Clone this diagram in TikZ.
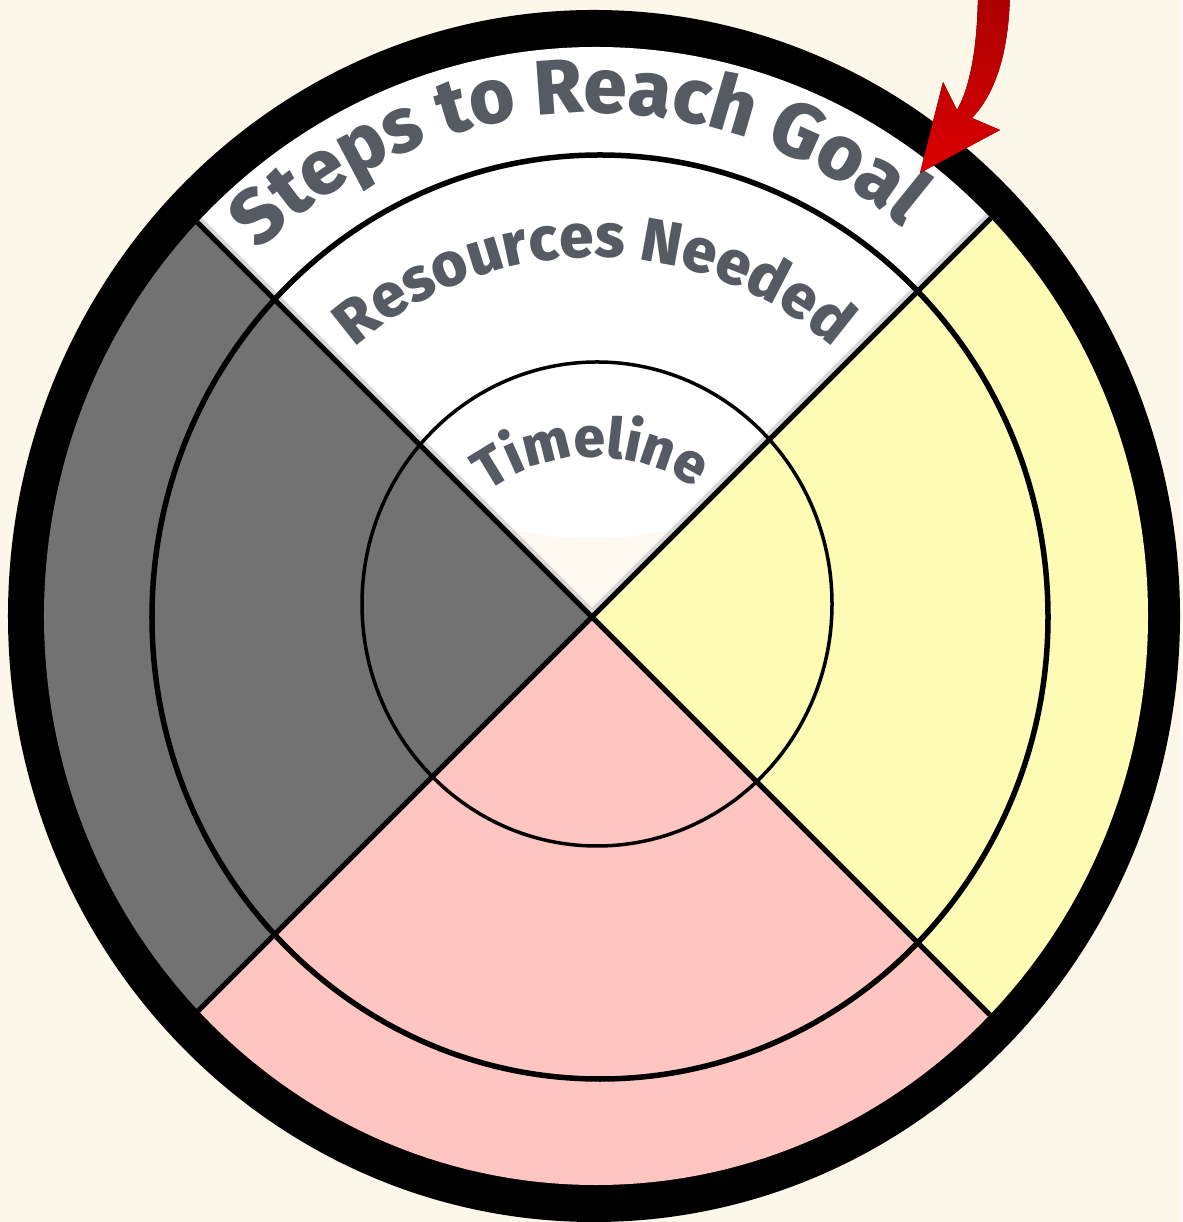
\documentclass[tikz,border=0pt]{standalone}
\usepackage{fontspec}
\newfontfamily\goalfont{Fira Sans}[BoldFont={Fira Sans ExtraBold}]
\usetikzlibrary{decorations.text}

\definecolor{bg_cream}{HTML}{FDF7EA}
\definecolor{quad_gray}{HTML}{737273}
\definecolor{quad_yellow}{HTML}{FEFBB4}
\definecolor{quad_pink}{HTML}{FFC5C0}
\definecolor{label_gray}{HTML}{565B63}
\definecolor{arrow_red}{HTML}{DC0000}
\definecolor{arrow_dark}{HTML}{A80000}

\begin{document}
\begin{tikzpicture}[
        x=0.01cm, y=0.01cm,
        % Define styles for the wheel
        divider/.style={line width=0.05cm, black},
        divider_glow/.style={line width=0.13cm, black!25, opacity=0.6},
        ring_line/.style={line width=0.055cm, black},
        inner_line/.style={line width=0.035cm, black},
        arc_label/.style={decorate, decoration={text along path, text align=center, text color=label_gray, text={#1}}},
        pointer/.style={top color=arrow_dark, bottom color=arrow_red, draw=none}
    ]

    % ==============================================
    % === BACKGROUND AND OUTER RING ===
    % ==============================================
    \fill[bg_cream] (-592,-605) rectangle (590,617);
    \useasboundingbox (-592,-605) rectangle (590,617);

    \coordinate (hub) at (0,0);
    \fill[black] (2,1) ellipse [x radius=586, y radius=606];

    % ==============================================
    % === QUADRANTS, RINGS AND DIVIDERS ===
    % ==============================================
    \begin{scope}
        \clip (4,1) ellipse [x radius=552, y radius=569];

        \fill[white] (hub) -- (-700,700) -- (700,700) -- cycle;
        \fill[quad_yellow] (hub) -- (700,700) -- (700,-700) -- cycle;
        \fill[quad_pink] (hub) -- (700,-700) -- (-700,-700) -- cycle;
        \fill[quad_gray] (hub) -- (-700,-700) -- (-700,700) -- cycle;

        % soft shadow along the dividers of the white quadrant
        \begin{scope}
            \clip (hub) -- (-700,700) -- (700,700) -- cycle;
            \fill[bg_cream!70!white] (hub) -- (-90,90) .. controls (-40,75) and (40,75) .. (90,90) -- cycle;
            \draw[divider_glow] (-700,700) -- (hub) -- (700,700);
        \end{scope}

        \draw[ring_line] (8,0) ellipse [x radius=448, y radius=462];
        \draw[inner_line] (5,13) ellipse [x radius=235, y radius=242];

        \draw[divider] (-700,700) -- (700,-700);
        \draw[divider] (700,700) -- (-700,-700);
    \end{scope}

    % ==============================================
    % === CURVED LABELS ===
    % ==============================================
    \path[arc_label={|\goalfont\bfseries\fontsize{22}{26}\selectfont|Steps to Reach Goal}]
        ([shift={(2,-8)}]167:490 and 512) arc[start angle=167, end angle=17, x radius=490, y radius=512];
    \path[arc_label={|\goalfont\bfseries\fontsize{17.5}{21}\selectfont|Resources Needed}]
        ([shift={(2,-8)}]165:364 and 368) arc[start angle=165, end angle=15, x radius=364, y radius=368];
    \path[arc_label={|\goalfont\bfseries\fontsize{16}{19}\selectfont|Timeline}]
        ([shift={(2,-20)}]166:180) arc[start angle=166, end angle=16, radius=180];

    % Red pointer coming in from the top
    \fill[pointer] (386,630) .. controls (386,570) and (378,530) .. (365,507)
        -- (351,535) -- (328,444) -- (408,487) -- (380,499)
        .. controls (405,525) and (418,570) .. (418,630) -- cycle;

\end{tikzpicture}
\end{document}
